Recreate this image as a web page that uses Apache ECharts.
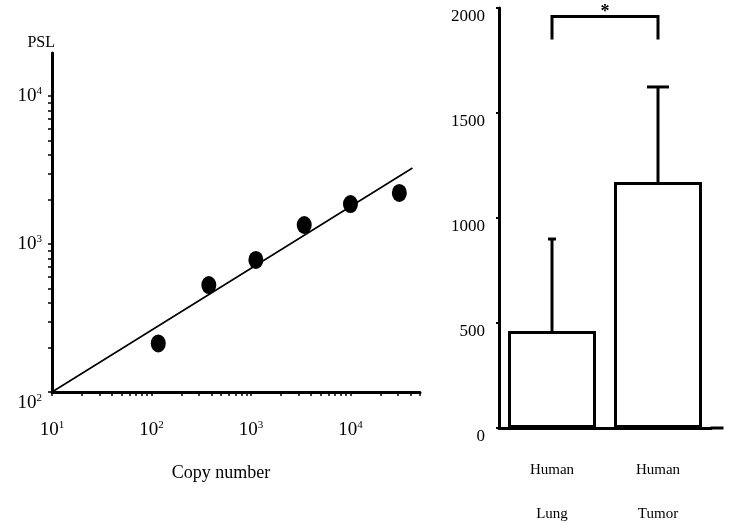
<!DOCTYPE html>
<html>
<head>
<meta charset="utf-8">
<script src="https://cdn.jsdelivr.net/npm/echarts@6/dist/echarts.min.js"></script>
<style>
    html, body { margin: 0; padding: 0; background: #fff; }
    #main { width: 732px; height: 524px; }
</style>
</head>
<body>
<div id="main"></div>
<script>
// 左图：拷贝数 - PSL (log-log)
var copyNumber = [117, 377, 1120, 3430, 10000, 31000];
var pslValue = [213, 528, 780, 1343, 1860, 2210];
var fitCopy = [10, 42000];
var fitPsl = [100, 3260];
var xTickLabels = [10, 100, 1000, 10000];
var yTickLabels = [100, 1000, 10000];

// 右图：柱状图
var groups = ['Human\nLung', 'Human\nTumor'];
var groupMean = [462, 1171];
var groupErrTop = [900, 1624];
var bracketTop = [1960];
var bracketLeg = [1850];

// 对数轴的小刻度 1..9 x 10^n
function logTicks(lo, hi, max) {
    var arr = [];
    for (var d = lo; d <= hi; d++) {
        for (var k = 1; k <= 9; k++) {
            var v = k * Math.pow(10, d);
            if (v <= max) arr.push(v);
        }
    }
    return arr;
}

var font = 'Liberation Serif';
var supRich = {
    b: { fontFamily: font, fontSize: 19, color: '#000' },
    s: { fontFamily: font, fontSize: 11, color: '#000', padding: [0, 0, 10, 0] },
    lb: { fontFamily: font, fontSize: 19, color: '#000', padding: [22, 0, 0, 0] },
    ls: { fontFamily: font, fontSize: 11, color: '#000', padding: [12, 0, 0, 0] }
};
function powLabel(v) {
    var e = Math.round(Math.log(v) / Math.LN10);
    return '{b|10}{s|' + e + '}';
}

var myChart = echarts.init(document.getElementById('main'));

var option = {
    backgroundColor: '#fff',
    animation: false,
    grid: [
        { left: 52, top: 53, width: 368, height: 339, outerBoundsMode: 'none' },
        { left: 499, top: 8, width: 212, height: 420, outerBoundsMode: 'none' }
    ],
    xAxis: [
        {
            gridIndex: 0,
            type: 'log',
            logBase: 10,
            min: 10,
            max: 50000,
            name: 'Copy number',
            nameLocation: 'middle',
            nameGap: 72,
            nameTextStyle: { fontFamily: font, fontSize: 18, color: '#000', padding: [0, 30, 0, 0] },
            axisLine: { lineStyle: { color: '#000', width: 3 } },
            axisTick: { length: 4, lineStyle: { color: '#000', width: 1.5 }, customValues: logTicks(1, 4, 50000) },
            axisLabel: { margin: 28, rich: supRich, formatter: powLabel, customValues: xTickLabels },
            splitLine: { show: false }
        },
        {
            gridIndex: 1,
            type: 'category',
            data: groups,
            axisLine: {
                lineStyle: { color: '#000', width: 3 },
                symbol: ['none', 'rect'],
                symbolSize: [3, 13],
                symbolOffset: [0, 6]
            },
            axisTick: { show: false },
            axisLabel: { margin: 20, fontFamily: font, fontSize: 15, color: '#000', lineHeight: 44 }
        }
    ],
    yAxis: [
        {
            gridIndex: 0,
            type: 'log',
            logBase: 10,
            min: 100,
            max: 19500,
            name: 'PSL',
            nameGap: 2,
            nameTextStyle: { fontFamily: font, fontSize: 16, color: '#000', align: 'right', padding: [0, -3, 0, 0] },
            axisLine: { lineStyle: { color: '#000', width: 3 } },
            axisTick: { length: 4, lineStyle: { color: '#000', width: 1.5 }, customValues: logTicks(2, 4, 19500) },
            axisLabel: {
                margin: 10,
                rich: supRich,
                customValues: yTickLabels,
                formatter: function (v) {
                    if (v === 100) return '{lb|10}{ls|2}';
                    return powLabel(v);
                }
            },
            splitLine: { show: false }
        },
        {
            gridIndex: 1,
            type: 'value',
            min: 0,
            max: 2000,
            interval: 500,
            axisLine: { show: true, lineStyle: { color: '#000', width: 3 } },
            axisTick: { show: true, length: 3, lineStyle: { color: '#000', width: 2 } },
            axisLabel: {
                margin: 14, fontFamily: font, fontSize: 17, color: '#000', verticalAlign: 'top',
                formatter: function (v) { return String(v); }
            },
            splitLine: { show: false }
        }
    ],
    series: [
        {
            // 回归直线
            type: 'line',
            xAxisIndex: 0,
            yAxisIndex: 0,
            data: fitCopy.map(function (x, i) { return [x, fitPsl[i]]; }),
            symbol: 'none',
            lineStyle: { color: '#000', width: 1.6 }
        },
        {
            type: 'scatter',
            xAxisIndex: 0,
            yAxisIndex: 0,
            data: copyNumber.map(function (x, i) { return [x, pslValue[i]]; }),
            symbol: 'circle',
            symbolSize: [15, 18],
            itemStyle: { color: '#000', opacity: 1 }
        },
        {
            type: 'bar',
            xAxisIndex: 1,
            yAxisIndex: 1,
            data: groupMean,
            barWidth: 88,
            itemStyle: { color: '#fff', borderColor: '#000', borderWidth: 3 }
        },
        {
            // 误差线
            type: 'custom',
            xAxisIndex: 1,
            yAxisIndex: 1,
            data: groupMean.map(function (m, i) { return [i, m, groupErrTop[i]]; }),
            renderItem: function (params, api) {
                var lo = api.coord([api.value(0), api.value(1)]);
                var hi = api.coord([api.value(0), api.value(2)]);
                var cap = params.dataIndex === 0 ? 8 : 22;
                var style = { stroke: '#000', lineWidth: 3 };
                return {
                    type: 'group',
                    children: [
                        { type: 'line', shape: { x1: lo[0], y1: lo[1], x2: hi[0], y2: hi[1] }, style: style },
                        { type: 'line', shape: { x1: hi[0] - cap / 2, y1: hi[1], x2: hi[0] + cap / 2, y2: hi[1] }, style: style }
                    ]
                };
            },
            z: 3
        },
        {
            // 显著性标记
            type: 'custom',
            xAxisIndex: 1,
            yAxisIndex: 1,
            data: [[0, 1, bracketTop[0], bracketLeg[0]]],
            renderItem: function (params, api) {
                var a = api.coord([api.value(0), api.value(3)]);
                var b = api.coord([api.value(0), api.value(2)]);
                var c = api.coord([api.value(1), api.value(2)]);
                var d = api.coord([api.value(1), api.value(3)]);
                return {
                    type: 'group',
                    children: [
                        {
                            type: 'polyline',
                            shape: { points: [a, b, c, d] },
                            style: { stroke: '#000', lineWidth: 3, fill: null }
                        },
                        {
                            type: 'text',
                            style: {
                                x: (b[0] + c[0]) / 2, y: b[1] + 5,
                                text: '*', fontFamily: font, fontSize: 18, fontWeight: 'bold',
                                fill: '#000', align: 'center', verticalAlign: 'bottom'
                            }
                        }
                    ]
                };
            }
        }
    ]
};
myChart.setOption(option);
</script>
</body>
</html>
